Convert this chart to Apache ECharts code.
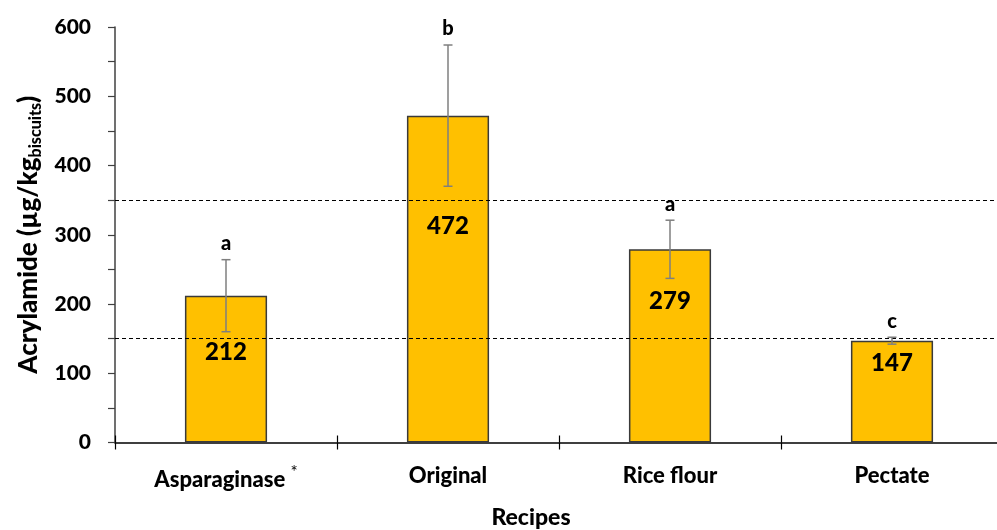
<!DOCTYPE html>
<html>
<head>
<meta charset="utf-8">
<script src="https://cdn.jsdelivr.net/npm/echarts@6/dist/echarts.min.js"></script>
<style>
  html, body { margin: 0; padding: 0; background: #fff; }
  #chart { width: 997px; height: 530px; }
</style>
</head>
<body>
<div id="chart"></div>
<script>
// Acrylamide content per biscuit recipe (µg/kg), with SD and significance groups
const recipes = ['Asparaginase', 'Original', 'Rice flour', 'Pectate'];
const acrylamide = [212, 472, 279, 147];
const stdDev = [52, 102, 42, 5];
const groups = ['a', 'b', 'a', 'c'];
const referenceLevels = [350, 150];
const yTicks = [0, 100, 200, 300, 400, 500, 600];

const FONT = 'Lato, "Open Sans", sans-serif';
const HEAVY = 900;

// how far each value label sits below its bar top (px)
const valueLabelDistance = [45, 99, 40, 11];

const chart = echarts.init(document.getElementById('chart'), null, { renderer: 'canvas' });

const barData = acrylamide.map((v, i) => ({
  value: v,
  label: { distance: valueLabelDistance[i] }
}));

const errData = acrylamide.map((v, i) => [i, v - stdDev[i], v + stdDev[i], groups[i]]);

const option = {
  animation: false,
  backgroundColor: '#fff',
  grid: {
    left: 115, top: 27, width: 888, height: 415.5,
    containLabel: false, outerBoundsMode: 'none'
  },
  xAxis: [
    {
      type: 'category',
      data: recipes,
      position: 'bottom',
      axisLine: { lineStyle: { color: '#000', width: 1.5 } },
      axisTick: { show: true, alignWithLabel: false, length: 7, lineStyle: { color: '#000', width: 1.2 } },
      axisLabel: {
        interval: 0,
        hideOverlap: false,
        margin: 22,
        color: '#000',
        fontFamily: FONT,
        fontWeight: HEAVY,
        fontSize: 22,
        formatter: function (v) {
          return v === 'Asparaginase' ? '{t|Asparaginase }{s|*}' : '{t|' + v + '}';
        },
        rich: {
          t: { fontFamily: FONT, fontWeight: HEAVY, fontSize: 22, color: '#000' },
          s: { fontFamily: FONT, fontWeight: 'normal', fontSize: 17, color: '#000', padding: [0, 0, 13, 0] }
        }
      },
      name: 'Recipes',
      nameLocation: 'middle',
      nameGap: 64,
      nameTextStyle: {
        color: '#000', fontFamily: FONT, fontWeight: HEAVY, fontSize: 23,
        padding: [0, 56, 0, 0]
      }
    },
    {
      type: 'category',
      data: recipes,
      position: 'bottom',
      axisLine: { show: false },
      axisTick: { show: true, inside: true, length: 7, lineStyle: { color: '#000', width: 1.2 } },
      axisLabel: { show: false }
    }
  ],
  yAxis: {
    type: 'value',
    min: 0,
    max: 600,
    interval: 100,
    axisLine: { show: true, lineStyle: { color: '#404040', width: 1.5 } },
    axisTick: { show: true, length: 7, lineStyle: { color: '#404040', width: 1.2 } },
    minorTick: { show: true, splitNumber: 2, length: 7, lineStyle: { color: '#404040', width: 1.2 } },
    splitLine: { show: false },
    axisLabel: {
      margin: 24,
      color: '#000',
      fontFamily: FONT,
      fontWeight: HEAVY,
      fontSize: 21,
      formatter: function (v) { return yTicks.indexOf(v) >= 0 ? String(v) : ''; }
    },
    name: '{t|Acrylamide (µg/kg}{s|biscuits}{t|)}',
    nameLocation: 'middle',
    nameRotate: 90,
    nameGap: 64,
    nameTextStyle: {
      rich: {
        t: { fontFamily: FONT, fontWeight: HEAVY, fontSize: 26, color: '#000', lineHeight: 34 },
        s: { fontFamily: FONT, fontWeight: HEAVY, fontSize: 16, color: '#000', padding: [14, 0, 0, 0], lineHeight: 34 }
      }
    }
  },
  series: [
    {
      type: 'bar',
      data: barData,
      barWidth: '37%',
      itemStyle: { color: '#FFC000', borderColor: '#3a3a3a', borderWidth: 1.5 },
      label: {
        show: true,
        position: 'insideTop',
        color: '#000',
        fontFamily: FONT,
        fontWeight: HEAVY,
        fontSize: 24
      },
      markLine: {
        silent: true,
        symbol: 'none',
        label: { show: false },
        lineStyle: { color: '#000', type: [4, 3], width: 1 },
        data: referenceLevels.map(v => ({ yAxis: v }))
      },
      z: 2
    },
    {
      type: 'custom',
      data: errData,
      z: 5,
      renderItem: function (params, api) {
        const idx = api.value(0);
        const lo = api.coord([idx, api.value(1)]);
        const hi = api.coord([idx, api.value(2)]);
        const letter = errData[params.dataIndex][3];
        const cap = 4.5;
        const stroke = { stroke: '#7f7f7f', lineWidth: 1.5 };
        return {
          type: 'group',
          children: [
            { type: 'line', shape: { x1: hi[0], y1: hi[1], x2: lo[0], y2: lo[1] }, style: stroke },
            { type: 'line', shape: { x1: hi[0] - cap, y1: hi[1], x2: hi[0] + cap, y2: hi[1] }, style: stroke },
            { type: 'line', shape: { x1: lo[0] - cap, y1: lo[1], x2: lo[0] + cap, y2: lo[1] }, style: stroke },
            {
              type: 'text',
              style: {
                text: letter,
                x: hi[0],
                y: hi[1] - 16,
                align: 'center',
                verticalAlign: 'middle',
                fill: '#000',
                font: HEAVY + ' 20px ' + FONT
              }
            }
          ]
        };
      }
    }
  ]
};

chart.setOption(option);
</script>
</body>
</html>
